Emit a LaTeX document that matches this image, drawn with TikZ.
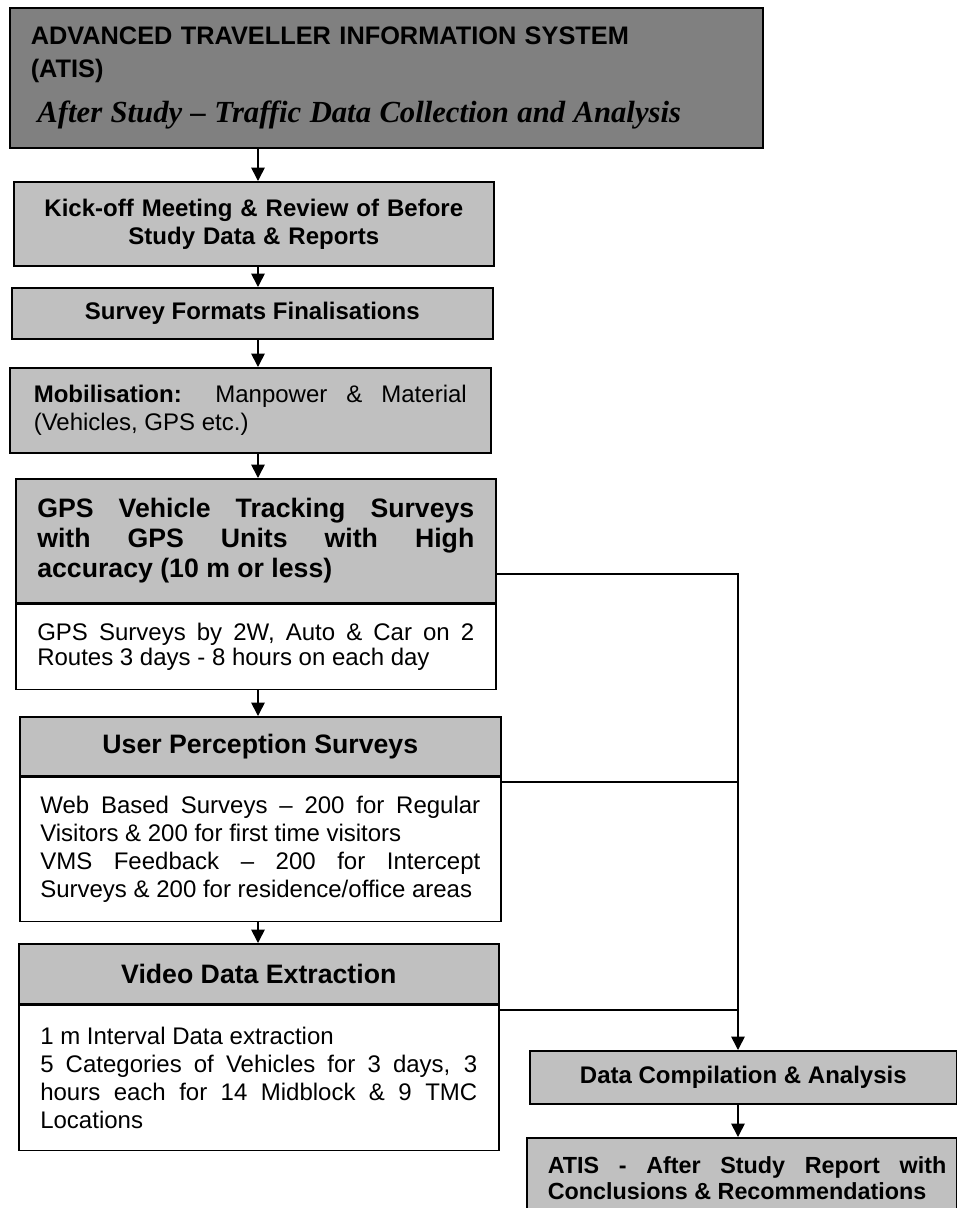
\documentclass[tikz,border=0pt]{standalone}
\usepackage{fontspec}
\setmainfont{Liberation Sans}
\newfontfamily\serifit[Ligatures=TeX]{Liberation Serif}
\usetikzlibrary{positioning, arrows.meta}
\definecolor{Grey50}{RGB}{128,128,128}
\definecolor{Grey25}{RGB}{192,192,192}
\newcommand{\pxu}{0.75pt}
\hyphenpenalty=10000
\exhyphenpenalty=10000
\tikzset{
    casella/.style = {draw=black, line width=1.2pt, inner sep=0pt, anchor=north west, align=center, font=\bfseries\fontsize{18}{21}\selectfont},
    testata/.style = {casella, fill=Grey25},
    corpo/.style = {casella, fill=white, align=justify, font=\fontsize{18}{21}\selectfont},
    freccia/.style = {arrows = {-Triangle[length=10pt, width=10pt]}, line width=1.2pt},
    linea/.style = {line width=1.2pt}
}

\begin{document}
\begin{tikzpicture}[
        x=\pxu, y=-\pxu,
        intestazione/.style = {testata, align=justify, font=\bfseries\fontsize{20}{22.5}\selectfont}
    ]
    \useasboundingbox (0,0) rectangle (957,1208);

    \node (titolo) at (9,7) [casella, fill=Grey50, align=left, minimum width=753*\pxu, minimum height=140*\pxu, text width=711*\pxu, font=\bfseries\fontsize{19}{25}\selectfont]
        {ADVANCED TRAVELLER INFORMATION SYSTEM\\(ATIS)\\[9pt]
        \hspace*{5pt}{\serifit\bfseries\itshape\fontsize{23}{26}\selectfont After Study – Traffic Data Collection and Analysis}};

    \node (kickoff) at (13,181) [testata, minimum width=480*\pxu, minimum height=84*\pxu, text width=440*\pxu]
        {Kick-off Meeting \& Review of Before\\Study Data \& Reports};
    \node (formati) at (11,287) [testata, minimum width=481*\pxu, minimum height=51*\pxu]
        {Survey Formats Finalisations};
    \node (mobil) at (9,367) [testata, minimum width=481*\pxu, minimum height=85*\pxu, text width=433*\pxu, align=justify, font=\fontsize{18}{21}\selectfont]
        {\textbf{Mobilisation:} Manpower \& Material\linebreak (Vehicles, GPS etc.)};

    \node (gpshead) at (15,478) [intestazione, minimum width=480*\pxu, minimum height=124*\pxu, text width=437*\pxu]
        {GPS Vehicle Tracking Surveys\linebreak with GPS Units with High\linebreak accuracy (10 m or less)};
    \node (gpsbody) at (gpshead.south west) [corpo, minimum width=480*\pxu, minimum height=85*\pxu, text width=437*\pxu, font=\fontsize{18}{19}\selectfont]
        {GPS Surveys by 2W, Auto \& Car on 2\linebreak Routes 3 days - 8 hours on each day};

    \node (userhead) at (19,716) [intestazione, align=center, minimum width=481*\pxu, minimum height=59*\pxu]
        {User Perception Surveys};
    \node (userbody) at (userhead.south west) [corpo, minimum width=481*\pxu, minimum height=144*\pxu, text width=440*\pxu]
        {Web Based Surveys -- 200 for Regular\linebreak Visitors \& 200 for first time visitors\par
        VMS Feedback -- 200 for Intercept\linebreak Surveys \& 200 for residence/office areas};

    \node (videohead) at (18,943) [intestazione, align=center, minimum width=480*\pxu, minimum height=60*\pxu]
        {Video Data Extraction};
    \node (videobody) at (videohead.south west) [corpo, minimum width=480*\pxu, minimum height=145*\pxu, text width=437*\pxu]
        {1 m Interval Data extraction\par
        5 Categories of Vehicles for 3 days, 3\linebreak hours each for 14 Midblock \& 9 TMC\linebreak Locations};

    \node (datacomp) at (529,1050) [testata, minimum width=427*\pxu, minimum height=53*\pxu]
        {Data Compilation \& Analysis};
    \node (report) at (526,1137) [testata, minimum width=430*\pxu, minimum height=80*\pxu, text width=409*\pxu, align=justify, font=\bfseries\fontsize{17.5}{19.5}\selectfont]
        {\leftskip=7.9pt ATIS - After Study Report with\linebreak Conclusions \& Recommendations\par};

    \coordinate (asse) at (258,0);
    \coordinate (jgps) at (738,574);
    \coordinate (juser) at (738,782);
    \coordinate (jvideo) at (738,1010);

    \draw[freccia] (asse |- titolo.south) -- (asse |- kickoff.north);
    \draw[freccia] (asse |- kickoff.south) -- (asse |- formati.north);
    \draw[freccia] (asse |- formati.south) -- (asse |- mobil.north);
    \draw[freccia] (asse |- mobil.south) -- (asse |- gpshead.north);
    \draw[freccia] (asse |- gpsbody.south) -- (asse |- userhead.north);
    \draw[freccia] (asse |- userbody.south) -- (asse |- videohead.north);

    \draw[linea] (gpshead.east |- jgps) -- (jgps) -- (jvideo);
    \draw[linea] (userbody.east |- juser) -- (juser);
    \draw[linea] (videobody.east |- jvideo) -- (jvideo);
    \draw[freccia] (jvideo) -- (jvideo |- datacomp.north);
    \draw[freccia] (jvideo |- datacomp.south) -- (jvideo |- report.north);

\end{tikzpicture}
\end{document}
